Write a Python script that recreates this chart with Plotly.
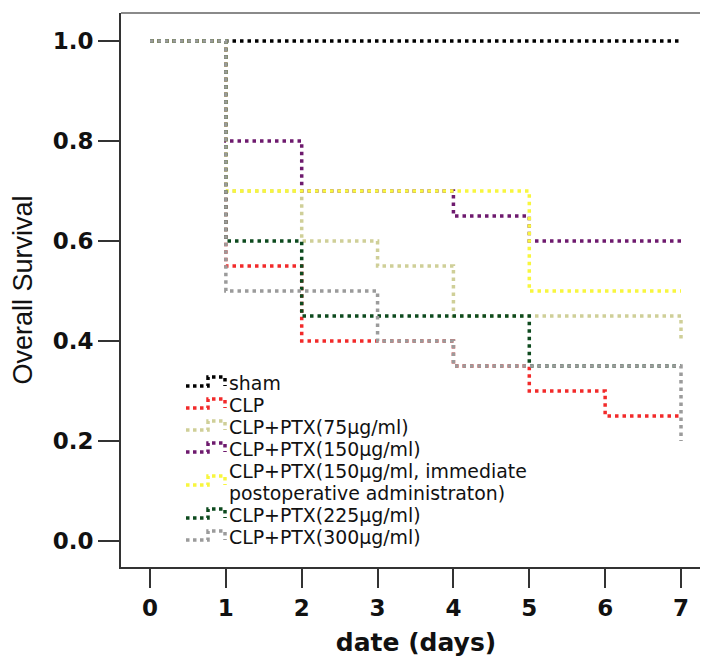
import plotly.graph_objects as go

# ---------------- data ----------------
groups = ["sham", "CLP", "CLP+PTX(75µg/ml)", "CLP+PTX(150µg/ml)",
          "CLP+PTX(150µg/ml, immediate postoperative administraton)",
          "CLP+PTX(225µg/ml)", "CLP+PTX(300µg/ml)"]
legend_text = [["sham"], ["CLP"], ["CLP+PTX(75µg/ml)"], ["CLP+PTX(150µg/ml)"],
               ["CLP+PTX(150µg/ml, immediate", "postoperative administraton)"],
               ["CLP+PTX(225µg/ml)"], ["CLP+PTX(300µg/ml)"]]

t_sham = [0, 7]
s_sham = [1.0, 1.0]
t_clp = [0, 1, 2, 4, 5, 6, 7]
s_clp = [1.0, 0.55, 0.40, 0.35, 0.30, 0.25, 0.25]
t_75 = [0, 1, 2, 3, 4, 7]
s_75 = [1.0, 0.70, 0.60, 0.55, 0.45, 0.40]
t_150 = [0, 1, 2, 4, 5, 7]
s_150 = [1.0, 0.80, 0.70, 0.65, 0.60, 0.60]
t_imm = [0, 1, 5, 7]
s_imm = [1.0, 0.70, 0.50, 0.50]
t_225 = [0, 1, 2, 5, 7]
s_225 = [1.0, 0.60, 0.45, 0.35, 0.35]
t_300 = [0, 1, 3, 4, 7]
s_300 = [1.0, 0.50, 0.40, 0.35, 0.20]

x_ticks = [0, 1, 2, 3, 4, 5, 6, 7]
y_ticks = [0.0, 0.2, 0.4, 0.6, 0.8, 1.0]

times = [t_sham, t_clp, t_75, t_150, t_imm, t_225, t_300]
survs = [s_sham, s_clp, s_75, s_150, s_imm, s_225, s_300]

# ---------------- styles ----------------
colors = ["#000000", "#f22a2a", "#cfcf98", "#6e1a6e", "#f8f63e", "#0d4a1e", "#9b9b9b"]
W, H = 708, 658
ML, MR, MT, MB = 113, 5, 5, 99
DASH = "3.5px,4px"

fig = go.Figure()
for name, t, s, c in zip(groups, times, survs, colors):
    fig.add_trace(go.Scatter(x=t, y=s, mode="lines", name=name, line_shape="hv",
                             line=dict(color=c, width=3.5, dash=DASH),
                             showlegend=False, hoverinfo="x+y+name"))

# ---------------- manual legend (tight line spacing like the original) ----------------
def px_to_paper_x(px):
    return (px - ML) / (W - ML - MR)

def px_to_paper_y(py):
    return (H - MB - py) / (H - MT - MB)

row_h = 22
row0 = 375
text_x = 220
annotations = []
shapes = []
row = 0
for lines, c in zip(legend_text, colors):
    centers = [row0 + (row + i) * row_h for i in range(len(lines))]
    for yc, txt in zip(centers, lines):
        annotations.append(dict(x=px_to_paper_x(text_x), y=px_to_paper_y(yc), xref="paper", yref="paper",
                                text=txt, showarrow=False, xanchor="left", yanchor="middle",
                                borderpad=0,
                                font=dict(family="DejaVu Sans", size=18.9, color="#111111")))
    yc = sum(centers) / len(centers)
    pts = [(178, yc + 3), (200, yc + 3), (200, yc - 6), (217, yc - 6), (217, yc + 3)]
    path = "M " + " L ".join(f"{px_to_paper_x(a):.5f},{px_to_paper_y(b):.5f}" for a, b in pts)
    shapes.append(dict(type="path", xref="paper", yref="paper", path=path,
                       line=dict(color=c, width=3.5, dash="dot")))
    row += len(lines)

# top / right frame lines (lighter grey in the original)
shapes.append(dict(type="line", xref="paper", yref="paper", x0=0, x1=1, y0=1, y1=1,
                   line=dict(color="#8a8a8a", width=2)))
shapes.append(dict(type="line", xref="paper", yref="paper", x0=1, x1=1, y0=0, y1=1,
                   line=dict(color="#8a8a8a", width=2)))

px_per_day = (673 - 142) / 7
x0 = (ML - 142) / px_per_day
x1 = (W - MR - 142) / px_per_day
y1 = 1 + (33 - MT) / 500
y0 = -((H - MB) - 533) / 500

fig.update_layout(
    width=W, height=H,
    margin=dict(l=ML, r=MR, t=MT, b=MB),
    paper_bgcolor="white", plot_bgcolor="white",
    annotations=annotations, shapes=shapes,
    xaxis=dict(range=[x0, x1], tickvals=x_ticks, ticktext=[str(v) for v in x_ticks],
               showgrid=False, zeroline=False, showline=True, linecolor="#333333", linewidth=2,
               ticks="outside", ticklen=19, tickwidth=2, tickcolor="#333333",
               tickfont=dict(family="DejaVu Sans", size=23, color="#111111", weight="bold"),
               title=dict(text="date (days)", standoff=14,
                          font=dict(family="DejaVu Sans", size=25, color="#111111", weight="bold"))),
    yaxis=dict(range=[y0, y1], tickvals=y_ticks, ticktext=[f"{v:.1f}" for v in y_ticks],
               showgrid=False, zeroline=False, showline=True, linecolor="#333333", linewidth=2,
               ticks="outside", ticklen=21, tickwidth=2, tickcolor="#333333",
               tickfont=dict(family="DejaVu Sans", size=23, color="#111111", weight="bold"),
               title=dict(text="Overall Survival", standoff=14,
                          font=dict(family="Liberation Sans, Arial, sans-serif", size=27, color="#111111"))),
)

fig.write_html("out.html")
